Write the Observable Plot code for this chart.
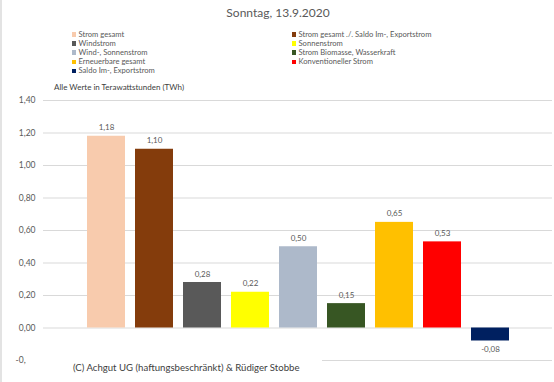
<!DOCTYPE html>
<html>
<head>
<meta charset="utf-8">
<script src="https://cdn.jsdelivr.net/npm/d3@7"></script>
<script src="https://cdn.jsdelivr.net/npm/@observablehq/plot@0.6"></script>
<style>
  html, body { margin: 0; padding: 0; background: #fff; }
  #page { position: relative; width: 554px; height: 382px; overflow: hidden; font-family: Lato, "Open Sans", sans-serif; color: #595959; }
  #page::before { content: ""; position: absolute; left: 0; top: 0; width: 2px; height: 382px; background: #e3e3e3; z-index: 5; }
  #chart { position: absolute; left: 0; top: 0; }
  .title { position: absolute; left: 0; width: 556px; top: 5px; text-align: center; font-size: 12px; }
  .leg { position: absolute; font-size: 7.6px; line-height: 9px; white-space: nowrap; }
  .leg i { display: inline-block; width: 4.5px; height: 4.5px; margin-right: 2.5px; vertical-align: 0px; }
  .unit { position: absolute; left: 54px; top: 81.5px; font-size: 8px; white-space: nowrap; color: #404040; }
  .caption { position: absolute; left: 26px; top: 351px; width: 296px; height: 31px; background: #fff; }
  .caption span { position: absolute; left: 47px; top: 10.5px; font-size: 9.6px; white-space: nowrap; color: #404040; }
</style>
</head>
<body>
<div id="page"></div>
<script>
const title = "Sonntag, 13.9.2020";
const unitLabel = "Alle Werte in Terawattstunden (TWh)";
const caption = "(C) Achgut UG (haftungsbeschränkt) & Rüdiger Stobbe";
const categories = [
  "Strom gesamt",
  "Strom gesamt ./. Saldo Im-, Exportstrom",
  "Windstrom",
  "Sonnenstrom",
  "Wind-, Sonnenstrom",
  "Strom Biomasse, Wasserkraft",
  "Erneuerbare gesamt",
  "Konventioneller Strom",
  "Saldo Im-, Exportstrom"
];
const values = [1.18, 1.10, 0.28, 0.22, 0.50, 0.15, 0.65, 0.53, -0.08];
const colors = ["#F8CBAD", "#843C0C", "#595959", "#FFFF00", "#ADB9CA", "#375623", "#FFC000", "#FF0000", "#002060"];
const yTicks = [-0.2, 0, 0.2, 0.4, 0.6, 0.8, 1.0, 1.2, 1.4];

const data = categories.map((c, i) => ({cat: c, value: values[i]}));
const fmt = v => d3.format(".2f")(v).replace(".", ",").replace("−", "-");

const page = document.getElementById("page");

const chart = Plot.plot({
  width: 554,
  height: 382,
  marginLeft: 43,
  marginRight: 2,
  marginTop: 100,
  marginBottom: 22,
  style: {fontFamily: "Lato, 'Open Sans', sans-serif", background: "transparent"},
  x: {type: "band", domain: categories, paddingInner: 0.216, paddingOuter: 0.867, axis: null},
  y: {domain: [-0.2, 1.4], label: null},
  color: {domain: categories, range: colors},
  marks: [
    Plot.ruleY(yTicks, {stroke: "#d9d9d9", strokeWidth: 1}),
    Plot.axisY({ticks: yTicks, tickFormat: fmt, tickSize: 0, tickPadding: 8, fontSize: 8.5, fill: "#595959", label: null}),
    Plot.barY(data, {x: "cat", y: "value", fill: "cat"}),
    Plot.text(data.filter(d => d.value >= 0), {x: "cat", y: "value", text: d => fmt(d.value), dy: -8.5,
      textAnchor: "middle", lineAnchor: "middle", fontSize: 8, fill: "#595959"}),
    Plot.text(data.filter(d => d.value < 0), {x: "cat", y: "value", text: d => fmt(d.value), dy: 8,
      textAnchor: "middle", lineAnchor: "middle", fontSize: 8, fill: "#595959"})
  ]
});
chart.id = "chart";
page.appendChild(chart);

const t = document.createElement("div");
t.className = "title"; t.textContent = title; page.appendChild(t);

categories.forEach((c, i) => {
  const d = document.createElement("div");
  d.className = "leg";
  const col = i % 2, row = Math.floor(i / 2);
  d.style.left = (col === 0 ? 71.5 : 291.5) + "px";
  d.style.top = (29.5 + row * 9.2) + "px";
  const sw = document.createElement("i");
  sw.style.background = colors[i];
  d.appendChild(sw);
  d.appendChild(document.createTextNode(c));
  page.appendChild(d);
});

const u = document.createElement("div");
u.className = "unit"; u.textContent = unitLabel; page.appendChild(u);

const cap = document.createElement("div");
cap.className = "caption";
const cs = document.createElement("span"); cs.textContent = caption; cap.appendChild(cs);
page.appendChild(cap);
</script>
</body>
</html>
